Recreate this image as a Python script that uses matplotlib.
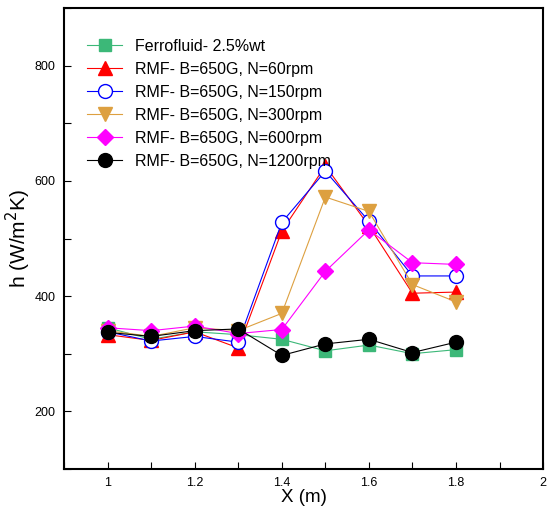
import numpy as np
import matplotlib
matplotlib.use('Agg')
import matplotlib.pyplot as plt
from matplotlib.ticker import MultipleLocator

plt.rcParams['font.family'] = ['Liberation Sans', 'DejaVu Sans']

# Data
xPos = [1.0, 1.1, 1.2, 1.3, 1.4, 1.5, 1.6, 1.7, 1.8]
hFerro = [345, 325, 338, 333, 325, 305, 315, 300, 307]
hN60 = [333, 323, 338, 310, 513, 626, 522, 405, 407]
hN150 = [338, 322, 330, 320, 528, 617, 530, 435, 435]
hN300 = [340, 330, 345, 340, 370, 572, 547, 420, 390]
hN600 = [345, 340, 348, 335, 342, 443, 515, 458, 455]
hN1200 = [337, 330, 340, 343, 297, 317, 325, 302, 320]

labels = ['Ferrofluid- 2.5%wt',
          'RMF- B=650G, N=60rpm',
          'RMF- B=650G, N=150rpm',
          'RMF- B=650G, N=300rpm',
          'RMF- B=650G, N=600rpm',
          'RMF- B=650G, N=1200rpm']

fig = plt.figure(figsize=(5.48, 5.08), dpi=100)
ax = fig.add_axes([0.117, 0.077, 0.874, 0.907])

ax.plot(xPos, hFerro, '-s', color='#3cb878', mfc='#3cb878', mec='#3cb878', ms=8.5, lw=0.8, label=labels[0])
ax.plot(xPos, hN60, '-^', color='red', ms=10, lw=0.8, label=labels[1])
ax.plot(xPos, hN150, '-o', color='blue', mfc='white', mec='blue', ms=10, mew=1.0, lw=0.8, label=labels[2])
ax.plot(xPos, hN300, '-v', color='#dda040', ms=10, lw=0.8, label=labels[3])
ax.plot(xPos, hN600, '-D', color='magenta', ms=8, lw=0.8, label=labels[4])
ax.plot(xPos, hN1200, '-o', color='black', ms=10, lw=0.8, label=labels[5])

ax.set_xlim(0.9, 2.0)
ax.set_ylim(100, 900)
ax.xaxis.set_major_locator(MultipleLocator(0.2))
ax.xaxis.set_minor_locator(MultipleLocator(0.1))
ax.yaxis.set_major_locator(MultipleLocator(200))
ax.yaxis.set_minor_locator(MultipleLocator(100))
ax.xaxis.set_major_formatter(plt.FuncFormatter(lambda v, p: ('%g' % round(v, 2))))
ax.tick_params(which='both', direction='in', length=5, width=0.8, labelsize=9, pad=6)
ax.tick_params(top=False, right=False, which='both')
for sp in ax.spines.values():
    sp.set_linewidth(1.5)

ax.set_xlabel('X (m)', fontsize=13.5, labelpad=0)
ax.set_ylabel('h (W/m$^2$K)', fontsize=15)
ax.yaxis.set_label_coords(-0.066, 0.5)

ax.legend(loc='upper left', frameon=False, fontsize=11.5, handlelength=2.2,
          labelspacing=0.5, borderaxespad=0.8, bbox_to_anchor=(0.008, 0.975))

fig.savefig('out.png', dpi=100)
